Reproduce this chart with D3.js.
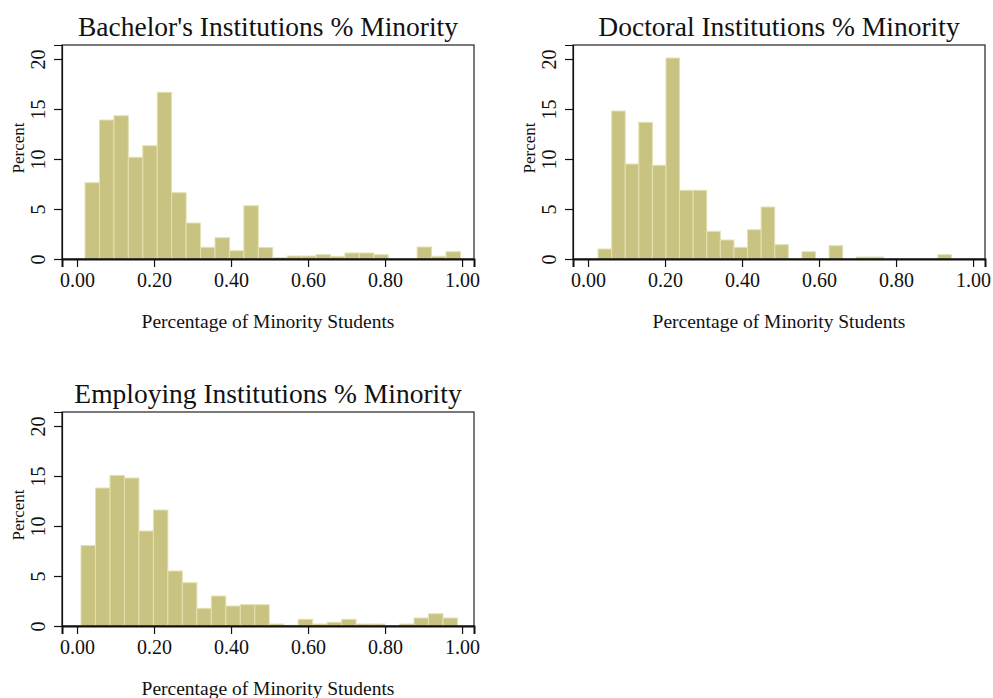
<!DOCTYPE html>
<html>
<head>
<meta charset="utf-8">
<script src="https://cdn.jsdelivr.net/npm/d3@7"></script>
<style>
  body { margin: 0; background: #fff; }
  text { font-family: "Liberation Serif", "Times New Roman", serif; fill: #111; }
</style>
</head>
<body>
<div id="chart"></div>
<script>
// histogram data, percent per bin (26 bins each)
var xTicks = [0, 0.2, 0.4, 0.6, 0.8, 1.0];
var yTicks = [0, 5, 10, 15, 20];

var bachTitle = "Bachelor's Institutions % Minority";
var bachStart = 0.0208, bachWidth = 0.0375;
var bachPct = [7.63, 13.9, 14.33, 10.17, 11.33, 16.67, 6.63, 3.6, 1.17, 2.13, 0.83, 5.33, 1.14,
               0.15, 0.3, 0.3, 0.43, 0.27, 0.6, 0.6, 0.43, 0, 0, 1.2, 0.27, 0.73];

var docTitle = "Doctoral Institutions % Minority";
var docStart = 0.026, docWidth = 0.0353;
var docPct = [1.0, 14.8, 9.5, 13.67, 9.37, 20.1, 6.87, 6.87, 2.77, 1.9, 1.17, 2.93, 5.2,
              1.43, 0, 0.73, 0, 1.33, 0, 0.2, 0.2, 0, 0, 0, 0, 0.43];

var empTitle = "Employing Institutions % Minority";
var empStart = 0.0104, empWidth = 0.0376;
var empPct = [8.05, 13.8, 15.06, 14.8, 9.5, 11.6, 5.5, 4.33, 1.77, 3.0, 2.0, 2.13, 2.13,
              0.2, 0.07, 0.67, 0.2, 0.37, 0.67, 0.2, 0.2, 0, 0.2, 0.8, 1.23, 0.8];

var W = 993, H = 698;
var svg = d3.select("#chart").append("svg").attr("width", W).attr("height", H);

var boxW = 412, boxH = 214;

function drawPanel(left, top, title, start, width, pct) {
    var g = svg.append("g").attr("transform", "translate(" + left + "," + top + ")");

    var x = d3.scaleLinear().domain([-0.039, 1.031]).range([0, boxW]);
    var y = d3.scaleLinear().domain([0, 21.4]).range([boxH, 0]);

    // bars
    var bins = pct.map(function(v, i) {
        return { x0: start + i * width, x1: start + (i + 1) * width, v: v };
    });
    g.selectAll("rect.bar")
        .data(bins.filter(function(d) { return d.v > 0; }))
        .enter()
        .append("rect")
        .attr("class", "bar")
        .attr("x", function(d) { return x(d.x0); })
        .attr("y", function(d) { return y(d.v); })
        .attr("width", function(d) { return x(d.x1) - x(d.x0); })
        .attr("height", function(d) { return y(0) - y(d.v); })
        .attr("fill", "#c9c381")
        .attr("stroke", "#e4e1b2")
        .attr("stroke-width", 1);

    // frame
    g.append("rect")
        .attr("x", 0).attr("y", 0)
        .attr("width", boxW).attr("height", boxH)
        .attr("fill", "none")
        .attr("stroke", "#222")
        .attr("stroke-width", 1.2);

    // x axis
    var xAxis = g.append("g")
        .attr("transform", "translate(0," + boxH + ")")
        .call(d3.axisBottom(x).tickValues(xTicks).tickSize(8).tickPadding(6)
            .tickFormat(d3.format(".2f")));
    xAxis.select(".domain").attr("stroke", "#111").attr("stroke-width", 2);
    xAxis.selectAll(".tick line").attr("stroke", "#111").attr("stroke-width", 1.2);
    xAxis.selectAll("text")
        .style("font-family", "Liberation Serif")
        .style("font-size", "20px")
        .attr("fill", "#111");

    // y axis
    var yAxis = g.append("g")
        .call(d3.axisLeft(y).tickValues(yTicks).tickSize(8).tickFormat(d3.format("d")));
    yAxis.select(".domain").attr("stroke", "#111").attr("stroke-width", 1.2);
    yAxis.selectAll(".tick line").attr("stroke", "#111").attr("stroke-width", 1.2);
    yAxis.selectAll("text")
        .attr("x", null).attr("dy", null)
        .attr("transform", "translate(-17,0) rotate(-90)")
        .attr("text-anchor", "middle")
        .style("font-family", "Liberation Serif")
        .style("font-size", "20px")
        .attr("fill", "#111");

    // titles
    g.append("text")
        .attr("x", boxW / 2).attr("y", -9)
        .attr("text-anchor", "middle")
        .style("font-size", "27.5px")
        .text(title);

    g.append("text")
        .attr("transform", "translate(-38," + 103 + ") rotate(-90)")
        .attr("text-anchor", "middle")
        .style("font-size", "17px")
        .text("Percent");

    g.append("text")
        .attr("x", boxW / 2).attr("y", boxH + 69)
        .attr("text-anchor", "middle")
        .style("font-size", "19.5px")
        .text("Percentage of Minority Students");
}

drawPanel(62, 45, bachTitle, bachStart, bachWidth, bachPct);
drawPanel(573, 45, docTitle, docStart, docWidth, docPct);
drawPanel(62, 412, empTitle, empStart, empWidth, empPct);
</script>
</body>
</html>
